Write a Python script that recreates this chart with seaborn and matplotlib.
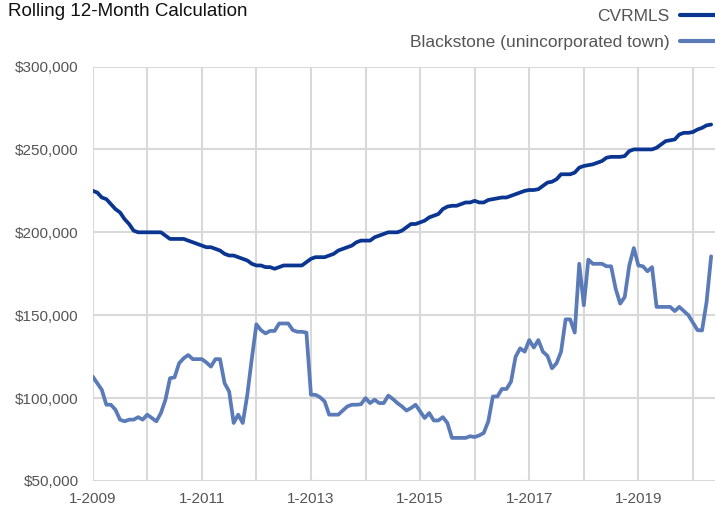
import numpy as np
import pandas as pd
import matplotlib
matplotlib.use("Agg")
import matplotlib.pyplot as plt
import seaborn as sns
from matplotlib.ticker import FuncFormatter, FixedLocator
from matplotlib.lines import Line2D

# ---- data (monthly, Jan 2009 .. May 2020), values in $ thousands ----
start_year = 2009
series_names = ["CVRMLS", "Blackstone (unincorporated town)"]

cvrmls = [225, 224, 221, 220, 217, 214, 212, 208, 205, 201,
          200, 200, 200, 200, 200, 200, 198, 196, 196, 196,
          196, 195, 194, 193, 192, 191, 191, 190, 189, 187,
          186, 186, 185, 184, 183, 181, 180, 180, 179, 179,
          178, 179, 180, 180, 180, 180, 180, 182, 184, 185,
          185, 185, 186, 187, 189, 190, 191, 192, 194, 195,
          195, 195, 197, 198, 199, 200, 200, 200, 201, 203,
          205, 205, 206, 207, 209, 210, 211, 214, 215.5, 216,
          216, 217, 218, 218, 219, 218, 218, 219.5, 220, 220.5,
          221, 221, 222, 223, 224, 225, 225.5, 225.5, 226, 228,
          230, 230.5, 232, 235, 235, 235, 236, 239, 240, 240.5,
          241, 242, 243, 245, 245.5, 245.5, 245.5, 246, 249, 250,
          250, 250, 250, 250, 251, 253, 255, 255.5, 256, 259,
          260, 260, 260.5, 262, 263, 264.5, 265]

blackstone = [113, 109, 105, 96, 96, 93, 87, 86, 87, 87,
              88.5, 87, 90, 88, 86, 91, 99, 112, 112.5, 121,
              124, 126, 123.5, 123.5, 123.5, 121.5, 119, 123.5, 123.5, 109,
              104, 85, 90, 85, 102, 124, 144.5, 141, 139, 140.5,
              140.5, 145, 145, 145, 141, 140, 140, 139.5, 102, 102,
              100.5, 98, 90, 90, 90, 92.5, 95, 96, 96, 96.3,
              100, 97, 99, 97, 97, 101.5, 99.5, 97, 95, 92.5,
              94, 96, 92, 88, 91, 86.5, 86.5, 88.5, 85, 76,
              76, 76, 76, 77, 76.5, 77.5, 79, 86, 101, 101,
              105.5, 105.5, 110, 125, 130, 128, 135, 130.5, 135, 128,
              125.5, 118, 121, 128, 147.5, 147.5, 139.5, 181, 156, 183.5,
              181, 181, 181, 179.5, 179.5, 166, 157, 161, 180, 190.5,
              180, 179.5, 176.5, 179, 155, 155, 155, 155, 152.5, 155,
              152.5, 150, 145.5, 141, 140.8, 158, 185.5]

tick_years = list(range(2009, 2021))
label_years = [2009, 2011, 2013, 2015, 2017, 2019]
y_ticks = [50000, 100000, 150000, 200000, 250000, 300000]

# ---- build long table ----
n = len(cvrmls)
month_idx = np.arange(n)
df = pd.DataFrame({
    "month": np.concatenate([month_idx, month_idx]),
    "value": np.concatenate([np.array(cvrmls) * 1000, np.array(blackstone) * 1000]),
    "series": [series_names[0]] * n + [series_names[1]] * n,
})

sns.set_theme(style="white")
plt.rcParams["font.family"] = ["Liberation Sans", "DejaVu Sans"]

fig = plt.figure(figsize=(7.15, 5.15), dpi=100)
ax = fig.add_axes([92.7 / 715, 1 - 481 / 515, 1 - 92.7 / 715, (481 - 66.5) / 515])

palette = {series_names[0]: "#0a3591", series_names[1]: "#5a7bb7"}
sns.lineplot(data=df, x="month", y="value", hue="series", palette=palette,
             linewidth=2.7, ax=ax, legend=False)

ax.set_xlim(0, 136.85)
ax.set_ylim(50000, 300000)

grid_c = "#d9d9d9"
ax.xaxis.set_major_locator(FixedLocator([(y - start_year) * 12 for y in tick_years]))
ax.set_xticklabels([f"1-{y}" if y in label_years else "" for y in tick_years])
ax.yaxis.set_major_locator(FixedLocator(y_ticks))
ax.yaxis.set_major_formatter(FuncFormatter(lambda v, p: f"${v:,.0f}"))

ax.grid(True, color=grid_c, linewidth=1.5)
ax.set_axisbelow(True)
for s in ax.spines.values():
    s.set_visible(False)
ax.tick_params(axis="both", length=6, width=1.5, color=grid_c,
               labelsize=11, labelcolor="#555555", pad=4)
ax.tick_params(axis="x", pad=2)
ax.set_xlabel("")
ax.set_ylabel("")

# legend: text right-aligned with line handle on the right
handles = [Line2D([0], [0], color=palette[s], linewidth=3) for s in series_names]
leg = fig.legend(handles, series_names, loc="upper right",
                 bbox_to_anchor=(1.0, 1 - 9 / 515), frameon=False, markerfirst=False,
                 fontsize=12.5, handlelength=2.0, handletextpad=0.6,
                 labelspacing=0.62, borderaxespad=0.0, borderpad=0.0)
for t in leg.get_texts():
    t.set_color("#555555")
    t.set_ha("right")
leg._legend_box.align = "right"

fig.text(8 / 715, 1 - 3 / 515, "Rolling 12-Month Calculation", fontsize=13.5,
         color="#111111", ha="left", va="top")

fig.savefig("out.png", dpi=100)
